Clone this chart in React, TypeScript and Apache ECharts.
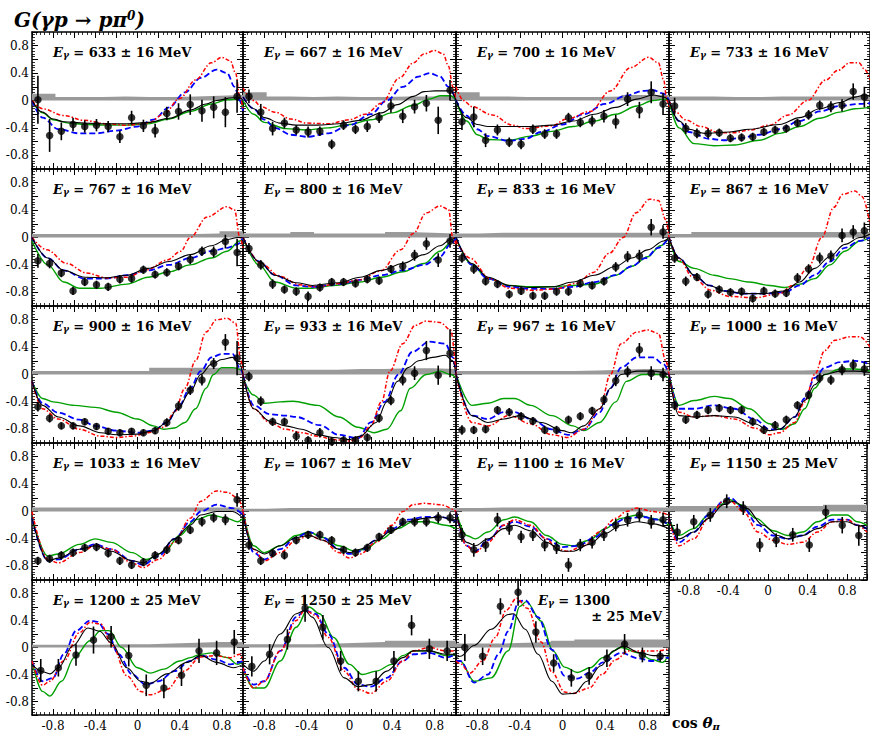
import React, { useEffect, useRef } from "react";
import * as echarts from "echarts";

// ---------- data ----------
const ENERGY = ["633","667","700","733","767","800","833","867","900","933","967","1000","1033","1067","1100","1150","1200","1250","1300"];
const ENERGY_ERR = ["16","16","16","16","16","16","16","16","16","16","16","16","16","16","16","25","25","25","25"];

const BINS18 = [-0.944,-0.833,-0.722,-0.611,-0.5,-0.389,-0.278,-0.167,-0.056,0.056,0.167,0.278,0.389,0.5,0.611,0.722,0.833,0.944];
const BINS12 = [-0.917,-0.75,-0.583,-0.417,-0.25,-0.083,0.083,0.25,0.417,0.583,0.75,0.917];

const G_DATA: number[][] = [
  [0.01,-0.51,-0.45,-0.35,-0.38,-0.36,-0.38,-0.53,-0.25,-0.37,-0.44,-0.19,-0.16,-0.06,-0.15,-0.10,-0.17,0.06],
  [0.06,-0.17,-0.41,-0.33,-0.43,-0.46,-0.45,-0.64,-0.36,-0.42,-0.38,-0.25,-0.08,-0.23,-0.09,-0.04,-0.29,0.15],
  [-0.31,-0.24,-0.58,-0.43,-0.61,-0.64,-0.42,-0.49,-0.49,-0.25,-0.32,-0.30,-0.23,-0.31,0.02,-0.14,0.12,-0.05],
  [-0.08,-0.41,-0.48,-0.48,-0.47,-0.55,-0.54,-0.53,-0.46,-0.43,-0.41,-0.33,-0.21,-0.07,-0.09,-0.07,0.13,0.05],
  [-0.34,-0.38,-0.52,-0.78,-0.65,-0.69,-0.72,-0.61,-0.60,-0.47,-0.54,-0.51,-0.42,-0.32,-0.20,-0.21,-0.06,-0.22],
  [-0.16,-0.40,-0.68,-0.76,-0.79,-0.86,-0.73,-0.65,-0.65,-0.67,-0.61,-0.63,-0.46,-0.42,-0.26,-0.09,-0.33,-0.05],
  [-0.30,-0.46,-0.64,-0.68,-0.83,-0.78,-0.85,-0.85,-0.79,-0.79,-0.67,-0.70,-0.64,-0.43,-0.28,-0.27,0.15,0.08],
  [-0.30,-0.64,-0.58,-0.83,-0.76,-0.80,-0.79,-0.89,-0.78,-0.82,-0.81,-0.59,-0.46,-0.30,-0.27,0.03,0.08,0.10],
  [-0.47,-0.64,-0.75,-0.75,-0.69,-0.76,-0.83,-0.85,-0.83,-0.85,-0.82,-0.70,-0.46,-0.23,-0.08,0.16,0.47,0.24],
  [-0.03,-0.39,-0.69,-0.69,-0.90,-0.96,-0.85,-0.98,-0.96,-0.96,-0.92,-0.64,-0.38,-0.08,0.02,0.35,-0.01,0.31],
  [-0.81,-0.81,-0.80,-0.52,-0.55,-0.61,-0.68,-0.81,-0.81,-0.66,-0.61,-0.53,-0.37,-0.09,0.04,0.36,0.02,0.00],
  [-0.45,-0.66,-0.59,-0.52,-0.49,-0.52,-0.52,-0.69,-0.81,-0.74,-0.66,-0.45,-0.30,-0.05,-0.08,0.07,0.14,0.08],
  [-0.72,-0.69,-0.64,-0.60,-0.53,-0.52,-0.61,-0.72,-0.78,-0.74,-0.64,-0.56,-0.42,-0.27,-0.15,-0.09,-0.12,0.17],
  [-0.49,-0.72,-0.61,-0.64,-0.42,-0.34,-0.34,-0.42,-0.56,-0.60,-0.53,-0.37,-0.27,-0.15,-0.15,-0.15,-0.09,-0.09],
  [-0.34,-0.56,-0.49,-0.12,-0.24,-0.37,-0.34,-0.49,-0.53,-0.78,-0.49,-0.45,-0.34,-0.20,-0.12,-0.05,-0.15,-0.12],
  [-0.30,-0.15,-0.05,0.15,0.05,-0.49,-0.42,-0.34,-0.49,-0.01,-0.20,-0.35],
  [-0.34,-0.30,-0.11,0.11,0.16,-0.12,-0.56,-0.60,-0.41,-0.05,-0.08,0.08],
  [-0.28,-0.10,0.12,0.58,0.30,-0.20,-0.50,-0.50,-0.20,0.33,-0.02,-0.05],
  [0.00,-0.13,0.61,0.82,0.23,-0.23,-0.45,-0.42,-0.16,0.05,-0.11,-0.13],
];

const G_ERR: number[][] = [
  [0.35,0.24,0.13,0.1,0.09,0.09,0.08,0.09,0.1,0.09,0.1,0.1,0.12,0.15,0.16,0.16,0.22,0.24],
  [0.1,0.12,0.1,0.08,0.07,0.08,0.07,0.07,0.07,0.07,0.08,0.08,0.1,0.1,0.1,0.12,0.2,0.15],
  [0.12,0.15,0.1,0.08,0.07,0.07,0.07,0.07,0.07,0.07,0.07,0.08,0.09,0.1,0.1,0.12,0.16,0.16],
  [0.12,0.08,0.07,0.07,0.06,0.06,0.06,0.06,0.06,0.06,0.06,0.06,0.07,0.07,0.08,0.09,0.12,0.15],
  [0.1,0.07,0.06,0.06,0.06,0.06,0.06,0.06,0.06,0.06,0.06,0.06,0.06,0.07,0.07,0.08,0.1,0.2],
  [0.08,0.07,0.07,0.06,0.06,0.07,0.06,0.06,0.06,0.06,0.06,0.06,0.06,0.07,0.08,0.09,0.1,0.1],
  [0.07,0.07,0.06,0.06,0.06,0.06,0.06,0.06,0.06,0.06,0.06,0.06,0.06,0.07,0.08,0.09,0.12,0.1],
  [0.07,0.07,0.06,0.06,0.06,0.06,0.06,0.06,0.06,0.06,0.06,0.07,0.07,0.08,0.08,0.1,0.1,0.12],
  [0.07,0.06,0.05,0.05,0.05,0.05,0.05,0.05,0.05,0.05,0.05,0.06,0.07,0.07,0.08,0.08,0.12,0.25],
  [0.07,0.07,0.06,0.06,0.07,0.06,0.07,0.06,0.06,0.06,0.06,0.06,0.07,0.08,0.1,0.14,0.14,0.35],
  [0.07,0.06,0.06,0.06,0.06,0.06,0.06,0.06,0.06,0.06,0.06,0.06,0.07,0.08,0.08,0.1,0.1,0.1],
  [0.07,0.06,0.06,0.06,0.06,0.06,0.06,0.06,0.06,0.06,0.06,0.06,0.06,0.07,0.07,0.08,0.08,0.1],
  [0.06,0.06,0.06,0.06,0.06,0.06,0.06,0.06,0.06,0.06,0.06,0.06,0.06,0.06,0.07,0.07,0.08,0.1],
  [0.07,0.06,0.06,0.06,0.06,0.06,0.06,0.06,0.06,0.06,0.06,0.06,0.06,0.06,0.07,0.07,0.08,0.08],
  [0.1,0.1,0.1,0.1,0.1,0.09,0.09,0.09,0.09,0.1,0.09,0.09,0.09,0.09,0.1,0.1,0.1,0.1],
  [0.12,0.1,0.1,0.1,0.1,0.1,0.1,0.1,0.1,0.1,0.12,0.15],
  [0.17,0.13,0.16,0.2,0.16,0.16,0.16,0.15,0.16,0.18,0.18,0.18],
  [0.15,0.15,0.15,0.2,0.18,0.15,0.15,0.15,0.15,0.15,0.15,0.15],
  [0.2,0.13,0.12,0.2,0.16,0.13,0.13,0.13,0.13,0.15,0.11,0.08],
];

// systematic-uncertainty band heights (equal bins over [-1, 1])
const SYS_BAND: number[][] = [
  [0.1,0.05,0.05,0.06,0.05,0.05,0.06,0.07,0.08],
  [0.12,0.06,0.05,0.06,0.05,0.05,0.06,0.06,0.07],
  [0.12,0.06,0.05,0.05,0.05,0.05,0.06,0.08,0.08],
  [0.06,0.06,0.05,0.05,0.06,0.06,0.06,0.06,0.07],
  [0.05,0.05,0.05,0.05,0.05,0.05,0.05,0.06,0.09],
  [0.06,0.06,0.08,0.06,0.06,0.06,0.08,0.07,0.06],
  [0.06,0.07,0.07,0.07,0.07,0.07,0.07,0.07,0.07],
  [0.05,0.08,0.08,0.08,0.08,0.08,0.08,0.08,0.08],
  [0.05,0.05,0.05,0.05,0.05,0.1,0.1,0.1,0.1],
  [0.07,0.07,0.07,0.07,0.08,0.08,0.09,0.09,0.08],
  [0.05,0.05,0.05,0.05,0.05,0.06,0.07,0.08,0.08],
  [0.06,0.06,0.06,0.06,0.06,0.06,0.07,0.07,0.07],
  [0.06,0.06,0.06,0.06,0.06,0.06,0.06,0.06,0.06],
  [0.04,0.05,0.05,0.05,0.05,0.05,0.05,0.05,0.05],
  [0.05,0.06,0.06,0.06,0.06,0.06,0.06,0.06,0.06],
  [0.08,0.08,0.08,0.08,0.08,0.08,0.08,0.1,0.1],
  [0.04,0.04,0.04,0.05,0.05,0.06,0.07,0.08,0.08],
  [0.05,0.05,0.05,0.06,0.07,0.08,0.1,0.1,0.1],
  [0.06,0.06,0.07,0.08,0.1,0.12,0.12,0.12,0.12],
];

const CURVE_BLACK: number[][][] = [
  [[-1,0],[-0.9,-0.17],[-0.8,-0.27],[-0.7,-0.31],[-0.5,-0.33],[-0.3,-0.34],[-0.1,-0.34],[0.1,-0.32],[0.3,-0.26],[0.5,-0.14],[0.65,-0.05],[0.75,0],[0.9,0.04],[0.97,0.04],[1,0]],
  [[-1,0.05],[-0.9,-0.12],[-0.8,-0.25],[-0.65,-0.33],[-0.5,-0.36],[-0.3,-0.36],[-0.1,-0.34],[0.1,-0.29],[0.3,-0.18],[0.45,-0.06],[0.6,0.06],[0.7,0.13],[0.8,0.14],[0.95,0.14],[1,0]],
  [[-1,0],[-0.9,-0.25],[-0.8,-0.35],[-0.7,-0.38],[-0.5,-0.38],[-0.3,-0.38],[-0.1,-0.36],[0.1,-0.3],[0.3,-0.2],[0.5,-0.1],[0.7,0.02],[0.85,0.08],[0.95,0.05],[1,0]],
  [[-1,0],[-0.9,-0.3],[-0.8,-0.42],[-0.65,-0.48],[-0.4,-0.46],[-0.2,-0.42],[0.1,-0.35],[0.3,-0.25],[0.5,-0.12],[0.7,-0.03],[0.85,0.05],[0.95,0.08],[1,0.06]],
  [[-1,0],[-0.85,-0.3],[-0.7,-0.48],[-0.5,-0.58],[-0.3,-0.59],[-0.1,-0.55],[0.1,-0.45],[0.3,-0.35],[0.5,-0.25],[0.7,-0.12],[0.85,-0.03],[0.95,0],[1,0]],
  [[-1,0],[-0.85,-0.35],[-0.7,-0.55],[-0.5,-0.66],[-0.35,-0.7],[-0.1,-0.66],[0.1,-0.58],[0.3,-0.48],[0.5,-0.38],[0.7,-0.25],[0.85,-0.12],[0.95,-0.03],[1,0]],
  [[-1,0],[-0.85,-0.38],[-0.7,-0.58],[-0.5,-0.7],[-0.3,-0.73],[-0.1,-0.72],[0.1,-0.65],[0.3,-0.55],[0.5,-0.42],[0.65,-0.3],[0.8,-0.18],[0.95,-0.05],[1,0]],
  [[-1,0],[-0.9,-0.3],[-0.75,-0.55],[-0.6,-0.7],[-0.45,-0.78],[-0.25,-0.82],[-0.05,-0.82],[0.15,-0.78],[0.3,-0.65],[0.45,-0.45],[0.6,-0.28],[0.75,-0.1],[0.9,0],[1,0.05]],
  [[-1,-0.1],[-0.9,-0.45],[-0.75,-0.62],[-0.55,-0.75],[-0.35,-0.85],[-0.2,-0.88],[0,-0.87],[0.15,-0.82],[0.28,-0.7],[0.38,-0.5],[0.5,-0.25],[0.6,0],[0.7,0.15],[0.8,0.22],[0.9,0.25],[0.97,0.15],[1,0]],
  [[-1,0],[-0.9,-0.5],[-0.75,-0.68],[-0.6,-0.75],[-0.45,-0.8],[-0.3,-0.88],[-0.15,-0.92],[0,-0.95],[0.1,-0.9],[0.25,-0.7],[0.35,-0.4],[0.45,-0.1],[0.55,0.1],[0.65,0.2],[0.78,0.25],[0.9,0.28],[0.97,0.2],[1,0]],
  [[-1,0],[-0.85,-0.6],[-0.7,-0.7],[-0.55,-0.65],[-0.4,-0.6],[-0.2,-0.7],[0,-0.82],[0.08,-0.85],[0.2,-0.75],[0.35,-0.5],[0.45,-0.2],[0.55,0],[0.7,0.05],[0.85,0.05],[1,0]],
  [[-1,0],[-0.9,-0.6],[-0.75,-0.62],[-0.55,-0.6],[-0.35,-0.62],[-0.15,-0.72],[0,-0.82],[0.1,-0.8],[0.25,-0.62],[0.35,-0.38],[0.45,-0.15],[0.55,0],[0.7,0.05],[0.85,0.05],[1,0.03]],
  [[-1,-0.1],[-0.85,-0.72],[-0.75,-0.68],[-0.55,-0.55],[-0.4,-0.5],[-0.25,-0.58],[-0.05,-0.72],[0.05,-0.75],[0.2,-0.62],[0.35,-0.4],[0.5,-0.2],[0.6,-0.05],[0.75,0],[0.9,0],[1,-0.1]],
  [[-1,-0.05],[-0.9,-0.55],[-0.8,-0.62],[-0.65,-0.5],[-0.5,-0.38],[-0.38,-0.35],[-0.25,-0.42],[-0.1,-0.55],[0,-0.6],[0.1,-0.55],[0.25,-0.42],[0.4,-0.28],[0.55,-0.15],[0.7,-0.1],[0.85,-0.08],[1,-0.15]],
  [[-1,0],[-0.9,-0.45],[-0.82,-0.5],[-0.7,-0.4],[-0.55,-0.25],[-0.45,-0.2],[-0.3,-0.28],[-0.15,-0.45],[0,-0.58],[0.1,-0.58],[0.25,-0.48],[0.4,-0.32],[0.55,-0.2],[0.7,-0.15],[0.85,-0.18],[1,-0.25]],
  [[-1,-0.1],[-0.9,-0.4],[-0.75,-0.3],[-0.6,-0.1],[-0.45,0.1],[-0.35,0.15],[-0.22,0.05],[-0.05,-0.2],[0.1,-0.35],[0.2,-0.4],[0.35,-0.35],[0.5,-0.25],[0.65,-0.15],[0.8,-0.15],[0.9,-0.2],[1,-0.25]],
  [[-1,-0.25],[-0.9,-0.36],[-0.83,-0.39],[-0.75,-0.3],[-0.61,0.03],[-0.47,0.29],[-0.36,0.24],[-0.25,0.07],[-0.1,-0.3],[0.03,-0.5],[0.12,-0.53],[0.28,-0.39],[0.47,-0.22],[0.6,-0.12],[0.75,-0.22],[0.91,-0.3],[1,-0.25]],
  [[-1,-0.25],[-0.9,-0.35],[-0.8,-0.2],[-0.65,0.2],[-0.5,0.5],[-0.42,0.55],[-0.35,0.45],[-0.2,0],[-0.05,-0.45],[0.08,-0.58],[0.2,-0.55],[0.35,-0.35],[0.5,-0.15],[0.6,-0.05],[0.75,-0.05],[0.9,-0.1],[1,-0.1]],
  [[-1,-0.15],[-0.96,-0.13],[-0.83,0.03],[-0.67,0.27],[-0.51,0.49],[-0.46,0.5],[-0.35,0.27],[-0.23,-0.1],[-0.1,-0.5],[0,-0.69],[0.11,-0.68],[0.23,-0.5],[0.36,-0.27],[0.48,-0.05],[0.57,0.02],[0.73,-0.08],[0.85,-0.12],[1,-0.12]],
];

const CURVE_RED: number[][][] = [
  [[-1,0],[-0.9,-0.12],[-0.7,-0.22],[-0.5,-0.29],[-0.3,-0.34],[-0.1,-0.36],[0.1,-0.33],[0.25,-0.2],[0.4,0.03],[0.55,0.3],[0.7,0.55],[0.8,0.63],[0.88,0.58],[0.93,0.4],[0.97,0.05],[1,-0.12]],
  [[-1,0.18],[-0.9,0],[-0.83,-0.09],[-0.7,-0.17],[-0.55,-0.27],[-0.4,-0.33],[-0.2,-0.34],[0,-0.28],[0.15,-0.2],[0.3,-0.04],[0.47,0.33],[0.6,0.55],[0.7,0.68],[0.8,0.73],[0.88,0.68],[0.93,0.5],[0.97,0.2],[1,0]],
  [[-1,0.2],[-0.93,0],[-0.85,-0.09],[-0.66,-0.21],[-0.47,-0.36],[-0.35,-0.41],[-0.1,-0.37],[0.04,-0.27],[0.26,-0.16],[0.45,0.14],[0.64,0.48],[0.81,0.63],[0.9,0.55],[0.95,0.3],[0.98,0],[1,-0.1]],
  [[-1,0],[-0.93,-0.17],[-0.84,-0.28],[-0.68,-0.38],[-0.5,-0.47],[-0.36,-0.47],[-0.19,-0.43],[0,-0.36],[0.19,-0.21],[0.38,0],[0.56,0.3],[0.68,0.44],[0.8,0.55],[0.89,0.55],[0.95,0.45],[1,0.3]],
  [[-1,0],[-0.86,-0.18],[-0.67,-0.38],[-0.48,-0.52],[-0.29,-0.59],[-0.1,-0.58],[0.09,-0.47],[0.28,-0.33],[0.41,-0.2],[0.5,0],[0.66,0.3],[0.85,0.45],[0.92,0.4],[0.97,0],[1,-0.15]],
  [[-1,0],[-0.83,-0.38],[-0.65,-0.57],[-0.47,-0.69],[-0.31,-0.72],[-0.09,-0.67],[0.09,-0.62],[0.29,-0.49],[0.48,-0.18],[0.6,0.06],[0.72,0.36],[0.85,0.46],[0.93,0.41],[0.97,0],[1,-0.1]],
  [[-1,-0.04],[-0.87,-0.3],[-0.68,-0.6],[-0.5,-0.74],[-0.28,-0.77],[-0.06,-0.75],[0.13,-0.67],[0.29,-0.51],[0.44,-0.23],[0.57,0],[0.69,0.36],[0.82,0.56],[0.9,0.54],[0.97,0.26],[1,0]],
  [[-1,0],[-0.89,-0.33],[-0.77,-0.57],[-0.58,-0.77],[-0.4,-0.86],[-0.15,-0.88],[0.1,-0.82],[0.23,-0.7],[0.39,-0.43],[0.52,0],[0.64,0.44],[0.73,0.63],[0.85,0.68],[0.92,0.6],[1,0.2]],
  [[-1,-0.1],[-0.9,-0.5],[-0.75,-0.65],[-0.55,-0.8],[-0.35,-0.9],[-0.2,-0.92],[-0.05,-0.9],[0.1,-0.85],[0.25,-0.77],[0.35,-0.55],[0.45,-0.2],[0.55,0.2],[0.65,0.62],[0.75,0.8],[0.85,0.82],[0.93,0.75],[0.98,0.2],[1,0]],
  [[-1,0],[-0.9,-0.5],[-0.75,-0.7],[-0.6,-0.8],[-0.45,-0.85],[-0.3,-0.9],[-0.15,-0.95],[0,-0.97],[0.1,-0.92],[0.2,-0.75],[0.3,-0.4],[0.38,0.05],[0.5,0.45],[0.62,0.72],[0.72,0.78],[0.85,0.76],[0.95,0.65],[1,0]],
  [[-1,0],[-0.85,-0.7],[-0.7,-0.75],[-0.5,-0.6],[-0.3,-0.72],[-0.1,-0.88],[0.05,-0.92],[0.2,-0.8],[0.35,-0.5],[0.45,0],[0.55,0.45],[0.7,0.62],[0.8,0.65],[0.9,0.6],[0.97,0.2],[1,0]],
  [[-1,0],[-0.9,-0.55],[-0.75,-0.62],[-0.55,-0.6],[-0.35,-0.65],[-0.15,-0.78],[0,-0.88],[0.1,-0.85],[0.25,-0.7],[0.35,-0.4],[0.45,0],[0.55,0.35],[0.65,0.5],[0.8,0.55],[0.9,0.55],[1,0.4]],
  [[-1,0],[-0.85,-0.7],[-0.75,-0.75],[-0.55,-0.6],[-0.4,-0.5],[-0.25,-0.55],[-0.05,-0.75],[0.05,-0.82],[0.2,-0.7],[0.35,-0.45],[0.5,-0.1],[0.6,0.15],[0.75,0.3],[0.85,0.28],[0.95,0.2],[1,0]],
  [[-1,0],[-0.9,-0.55],[-0.8,-0.72],[-0.65,-0.6],[-0.5,-0.42],[-0.38,-0.35],[-0.25,-0.42],[-0.1,-0.6],[0,-0.68],[0.1,-0.62],[0.25,-0.45],[0.4,-0.2],[0.5,0],[0.6,0.1],[0.7,0.12],[0.85,0.1],[1,0]],
  [[-1,0],[-0.9,-0.5],[-0.82,-0.6],[-0.7,-0.45],[-0.55,-0.2],[-0.45,-0.12],[-0.3,-0.2],[-0.15,-0.4],[-0.05,-0.55],[0.05,-0.58],[0.2,-0.5],[0.35,-0.3],[0.5,-0.1],[0.6,0],[0.7,0.05],[0.85,0],[1,-0.05]],
  [[-1,-0.1],[-0.9,-0.5],[-0.75,-0.4],[-0.6,-0.1],[-0.45,0.15],[-0.38,0.15],[-0.25,0],[-0.1,-0.3],[0.05,-0.42],[0.2,-0.48],[0.35,-0.45],[0.5,-0.3],[0.65,-0.15],[0.8,-0.12],[0.9,-0.2],[1,-0.3]],
  [[-1,-0.2],[-0.9,-0.56],[-0.83,-0.5],[-0.7,-0.2],[-0.55,0.22],[-0.45,0.37],[-0.35,0.35],[-0.24,0.03],[-0.1,-0.42],[0.03,-0.65],[0.12,-0.7],[0.28,-0.62],[0.44,-0.35],[0.6,-0.14],[0.73,-0.12],[0.88,-0.15],[0.97,-0.1],[1,-0.2]],
  [[-1,-0.3],[-0.9,-0.6],[-0.8,-0.5],[-0.65,-0.05],[-0.5,0.4],[-0.42,0.55],[-0.32,0.48],[-0.2,0.15],[-0.05,-0.35],[0.08,-0.62],[0.2,-0.68],[0.35,-0.5],[0.5,-0.2],[0.6,-0.05],[0.75,0],[0.9,-0.05],[1,-0.05]],
  [[-1,-0.2],[-0.96,-0.24],[-0.87,-0.38],[-0.75,-0.2],[-0.63,0.15],[-0.53,0.55],[-0.43,0.73],[-0.33,0.58],[-0.2,0.08],[-0.1,-0.36],[0.02,-0.66],[0.1,-0.68],[0.25,-0.6],[0.37,-0.4],[0.5,-0.18],[0.62,-0.05],[0.75,-0.05],[0.88,-0.05],[1,-0.02]],
];

const CURVE_BLUE: number[][][] = [
  [[-1,0],[-0.9,-0.25],[-0.75,-0.42],[-0.55,-0.48],[-0.4,-0.48],[-0.2,-0.44],[0,-0.38],[0.15,-0.28],[0.3,-0.1],[0.45,0.12],[0.6,0.33],[0.75,0.45],[0.85,0.4],[0.92,0.2],[0.97,0],[1,-0.15]],
  [[-1,0.05],[-0.9,-0.12],[-0.8,-0.28],[-0.7,-0.4],[-0.55,-0.5],[-0.4,-0.53],[-0.2,-0.48],[0,-0.36],[0.2,-0.2],[0.35,0],[0.5,0.2],[0.65,0.35],[0.75,0.4],[0.85,0.35],[0.93,0.2],[1,0]],
  [[-1,0],[-0.9,-0.22],[-0.8,-0.42],[-0.7,-0.52],[-0.5,-0.59],[-0.35,-0.56],[-0.2,-0.46],[0,-0.35],[0.2,-0.2],[0.4,-0.05],[0.6,0.07],[0.75,0.14],[0.85,0.15],[0.95,0.1],[1,0]],
  [[-1,0],[-0.9,-0.3],[-0.8,-0.46],[-0.6,-0.56],[-0.45,-0.58],[-0.3,-0.55],[-0.1,-0.5],[0.1,-0.42],[0.3,-0.3],[0.5,-0.16],[0.7,-0.08],[0.9,-0.05],[1,-0.04]],
  [[-1,0],[-0.85,-0.3],[-0.7,-0.48],[-0.5,-0.6],[-0.3,-0.6],[-0.1,-0.55],[0.1,-0.48],[0.3,-0.4],[0.5,-0.3],[0.7,-0.2],[0.85,-0.15],[0.95,-0.1],[1,0]],
  [[-1,0],[-0.85,-0.35],[-0.7,-0.55],[-0.5,-0.7],[-0.35,-0.72],[-0.1,-0.68],[0.1,-0.62],[0.3,-0.55],[0.5,-0.48],[0.7,-0.4],[0.85,-0.28],[0.95,-0.1],[1,0]],
  [[-1,0],[-0.85,-0.4],[-0.7,-0.6],[-0.5,-0.72],[-0.3,-0.75],[-0.1,-0.75],[0.1,-0.72],[0.3,-0.65],[0.5,-0.55],[0.65,-0.42],[0.78,-0.3],[0.9,-0.15],[1,0]],
  [[-1,0],[-0.9,-0.3],[-0.75,-0.55],[-0.6,-0.7],[-0.45,-0.78],[-0.25,-0.82],[-0.05,-0.82],[0.15,-0.8],[0.3,-0.7],[0.45,-0.55],[0.6,-0.35],[0.75,-0.15],[0.9,-0.05],[1,0]],
  [[-1,-0.1],[-0.9,-0.42],[-0.75,-0.56],[-0.55,-0.66],[-0.4,-0.75],[-0.2,-0.82],[0,-0.85],[0.15,-0.82],[0.28,-0.7],[0.38,-0.5],[0.5,-0.2],[0.6,0.05],[0.7,0.25],[0.8,0.3],[0.9,0.3],[0.97,0.1],[1,0]],
  [[-1,0],[-0.9,-0.45],[-0.75,-0.58],[-0.6,-0.6],[-0.5,-0.62],[-0.28,-0.74],[-0.1,-0.88],[0.08,-0.93],[0.2,-0.7],[0.33,-0.4],[0.46,0],[0.59,0.33],[0.75,0.48],[0.9,0.45],[0.97,0.25],[1,0]],
  [[-1,0],[-0.85,-0.6],[-0.7,-0.65],[-0.55,-0.55],[-0.45,-0.55],[-0.3,-0.65],[-0.1,-0.8],[0.05,-0.88],[0.2,-0.8],[0.35,-0.55],[0.45,-0.2],[0.55,0.1],[0.7,0.25],[0.85,0.25],[0.95,0.15],[1,0]],
  [[-1,0],[-0.9,-0.5],[-0.75,-0.5],[-0.55,-0.45],[-0.35,-0.5],[-0.15,-0.65],[0,-0.8],[0.1,-0.8],[0.25,-0.62],[0.35,-0.35],[0.45,-0.05],[0.55,0.1],[0.7,0.18],[0.85,0.2],[1,0.15]],
  [[-1,-0.1],[-0.85,-0.72],[-0.75,-0.7],[-0.55,-0.55],[-0.4,-0.48],[-0.25,-0.55],[-0.05,-0.72],[0.05,-0.78],[0.2,-0.65],[0.35,-0.4],[0.5,-0.15],[0.6,0],[0.75,0.1],[0.9,0.05],[1,-0.05]],
  [[-1,0],[-0.9,-0.6],[-0.8,-0.7],[-0.65,-0.55],[-0.5,-0.38],[-0.38,-0.3],[-0.25,-0.38],[-0.1,-0.55],[0,-0.62],[0.1,-0.58],[0.25,-0.42],[0.4,-0.25],[0.55,-0.12],[0.7,-0.08],[0.85,-0.08],[1,-0.15]],
  [[-1,0],[-0.9,-0.5],[-0.82,-0.58],[-0.7,-0.42],[-0.55,-0.2],[-0.45,-0.15],[-0.3,-0.22],[-0.15,-0.4],[0,-0.52],[0.15,-0.5],[0.3,-0.38],[0.45,-0.2],[0.6,-0.1],[0.75,-0.08],[0.9,-0.12],[1,-0.2]],
  [[-1,-0.1],[-0.9,-0.45],[-0.75,-0.3],[-0.6,-0.05],[-0.45,0.15],[-0.38,0.2],[-0.25,0.05],[-0.1,-0.2],[0.05,-0.35],[0.2,-0.4],[0.35,-0.35],[0.5,-0.22],[0.65,-0.12],[0.8,-0.12],[0.9,-0.2],[1,-0.25]],
  [[-1,-0.2],[-0.9,-0.5],[-0.8,-0.45],[-0.7,-0.1],[-0.58,0.25],[-0.45,0.4],[-0.38,0.38],[-0.28,0.2],[-0.18,-0.1],[-0.05,-0.4],[0.08,-0.55],[0.2,-0.5],[0.35,-0.35],[0.5,-0.2],[0.6,-0.12],[0.75,-0.18],[0.88,-0.25],[1,-0.2]],
  [[-1,-0.3],[-0.9,-0.55],[-0.8,-0.5],[-0.65,-0.05],[-0.5,0.45],[-0.42,0.55],[-0.32,0.5],[-0.2,0.2],[-0.05,-0.3],[0.08,-0.55],[0.2,-0.58],[0.35,-0.45],[0.5,-0.2],[0.6,-0.1],[0.75,-0.08],[0.9,-0.15],[1,-0.1]],
  [[-1,-0.2],[-0.96,-0.2],[-0.83,-0.52],[-0.7,-0.4],[-0.6,-0.1],[-0.51,0.24],[-0.41,0.68],[-0.35,0.7],[-0.23,0.45],[-0.1,-0.03],[0.02,-0.42],[0.14,-0.46],[0.26,-0.37],[0.38,-0.22],[0.55,-0.08],[0.71,-0.16],[0.84,-0.2],[0.97,-0.15],[1,-0.15]],
];

const CURVE_GREEN: number[][][] = [
  [[-1,0],[-0.9,-0.18],[-0.8,-0.28],[-0.65,-0.33],[-0.5,-0.35],[-0.3,-0.36],[-0.1,-0.36],[0.1,-0.34],[0.3,-0.27],[0.5,-0.16],[0.7,-0.05],[0.85,0.01],[0.95,0.02],[1,-0.1]],
  [[-1,0],[-0.9,-0.2],[-0.8,-0.32],[-0.6,-0.41],[-0.4,-0.43],[-0.2,-0.4],[0,-0.35],[0.2,-0.28],[0.4,-0.18],[0.6,-0.07],[0.75,0.02],[0.85,0.07],[0.95,0.07],[1,0]],
  [[-1,0],[-0.9,-0.3],[-0.8,-0.5],[-0.7,-0.57],[-0.5,-0.58],[-0.3,-0.52],[-0.1,-0.45],[0.1,-0.38],[0.3,-0.3],[0.5,-0.2],[0.7,-0.08],[0.85,0],[0.95,0.02],[1,0]],
  [[-1,0],[-0.9,-0.4],[-0.75,-0.63],[-0.55,-0.66],[-0.35,-0.65],[-0.1,-0.58],[0.1,-0.48],[0.3,-0.38],[0.5,-0.26],[0.7,-0.17],[0.85,-0.12],[1,-0.1]],
  [[-1,-0.05],[-0.85,-0.4],[-0.7,-0.65],[-0.55,-0.74],[-0.35,-0.74],[-0.1,-0.68],[0.1,-0.58],[0.3,-0.5],[0.5,-0.4],[0.7,-0.3],[0.85,-0.2],[0.97,-0.05],[1,0]],
  [[-1,0],[-0.85,-0.4],[-0.7,-0.65],[-0.5,-0.74],[-0.35,-0.74],[-0.15,-0.7],[0.1,-0.65],[0.3,-0.58],[0.5,-0.5],[0.7,-0.38],[0.85,-0.2],[0.97,-0.05],[1,0]],
  [[-1,0],[-0.85,-0.4],[-0.7,-0.6],[-0.5,-0.7],[-0.3,-0.72],[-0.1,-0.72],[0.1,-0.7],[0.3,-0.68],[0.5,-0.55],[0.65,-0.42],[0.8,-0.28],[0.92,-0.12],[1,0]],
  [[-1,0],[-0.9,-0.35],[-0.75,-0.45],[-0.55,-0.55],[-0.4,-0.6],[-0.2,-0.65],[0,-0.7],[0.15,-0.73],[0.3,-0.68],[0.45,-0.6],[0.6,-0.4],[0.75,-0.2],[0.9,-0.05],[1,0]],
  [[-1,-0.1],[-0.9,-0.35],[-0.8,-0.4],[-0.6,-0.45],[-0.4,-0.48],[-0.2,-0.55],[0,-0.65],[0.15,-0.75],[0.25,-0.8],[0.35,-0.78],[0.45,-0.7],[0.55,-0.5],[0.65,-0.2],[0.72,0],[0.8,0.1],[0.9,0.1],[1,0.05]],
  [[-1,-0.05],[-0.9,-0.3],[-0.8,-0.42],[-0.65,-0.4],[-0.53,-0.39],[-0.3,-0.45],[-0.1,-0.62],[0.08,-0.77],[0.23,-0.85],[0.35,-0.8],[0.48,-0.53],[0.57,-0.2],[0.72,0],[0.85,0.05],[0.95,0],[1,-0.05]],
  [[-1,0],[-0.85,-0.45],[-0.7,-0.42],[-0.55,-0.35],[-0.45,-0.35],[-0.3,-0.45],[-0.1,-0.6],[0.1,-0.75],[0.2,-0.82],[0.35,-0.7],[0.5,-0.4],[0.6,-0.1],[0.75,0],[0.9,0],[1,-0.05]],
  [[-1,0],[-0.9,-0.45],[-0.75,-0.38],[-0.55,-0.32],[-0.4,-0.35],[-0.2,-0.5],[0,-0.72],[0.12,-0.8],[0.25,-0.72],[0.35,-0.5],[0.45,-0.2],[0.55,0],[0.7,0.08],[0.85,0.08],[1,0.05]],
  [[-1,-0.1],[-0.85,-0.65],[-0.75,-0.62],[-0.55,-0.48],[-0.4,-0.4],[-0.25,-0.45],[-0.05,-0.6],[0.08,-0.7],[0.25,-0.6],[0.4,-0.35],[0.55,-0.12],[0.7,-0.05],[0.85,-0.1],[0.95,-0.15],[1,-0.1]],
  [[-1,0],[-0.9,-0.5],[-0.8,-0.6],[-0.65,-0.5],[-0.5,-0.35],[-0.38,-0.3],[-0.25,-0.38],[-0.1,-0.5],[0.05,-0.58],[0.15,-0.55],[0.3,-0.4],[0.45,-0.25],[0.6,-0.15],[0.75,-0.15],[0.9,-0.2],[1,-0.25]],
  [[-1,0],[-0.9,-0.35],[-0.82,-0.4],[-0.7,-0.3],[-0.55,-0.12],[-0.45,-0.08],[-0.3,-0.15],[-0.15,-0.35],[0,-0.48],[0.1,-0.5],[0.25,-0.42],[0.4,-0.25],[0.55,-0.1],[0.7,-0.05],[0.85,-0.1],[1,-0.2]],
  [[-1,-0.1],[-0.9,-0.35],[-0.75,-0.25],[-0.6,-0.05],[-0.48,0.1],[-0.4,0.18],[-0.28,0.1],[-0.12,-0.1],[0.05,-0.28],[0.2,-0.35],[0.35,-0.3],[0.5,-0.15],[0.65,-0.05],[0.8,-0.05],[0.9,-0.15],[1,-0.2]],
  [[-1,-0.2],[-0.9,-0.65],[-0.83,-0.72],[-0.72,-0.5],[-0.6,-0.15],[-0.45,0.1],[-0.35,0.25],[-0.27,0.25],[-0.15,0],[0,-0.3],[0.12,-0.38],[0.25,-0.32],[0.4,-0.2],[0.5,-0.15],[0.6,-0.1],[0.7,-0.08],[0.85,-0.15],[0.95,-0.25],[1,-0.2]],
  [[-1,-0.3],[-0.9,-0.6],[-0.8,-0.6],[-0.65,-0.2],[-0.5,0.3],[-0.38,0.6],[-0.28,0.5],[-0.15,0.15],[0,-0.25],[0.12,-0.4],[0.25,-0.35],[0.4,-0.25],[0.5,-0.12],[0.6,-0.05],[0.75,-0.05],[0.9,-0.12],[1,-0.1]],
  [[-1,-0.2],[-0.96,-0.2],[-0.83,-0.5],[-0.67,-0.45],[-0.51,-0.05],[-0.4,0.61],[-0.34,0.68],[-0.2,0.39],[-0.09,-0.05],[0.02,-0.29],[0.14,-0.37],[0.26,-0.3],[0.38,-0.15],[0.55,0],[0.71,-0.08],[0.84,-0.18],[0.94,-0.22],[1,-0.1]],
];

const TICK_LABELS = [-0.8, -0.4, 0, 0.4, 0.8];

// ---------- layout ----------
const COL_LEFT = [32, 243, 456, 669];
const COL_W = [211, 213, 213, 213];
const ROW_TOP = [32, 169, 306, 443, 580];
const ROW_H = 137;
const FONT = "DejaVu Serif";

function tickFmt(v: number) {
  const r = Math.round(v * 10) / 10;
  return TICK_LABELS.some((t) => Math.abs(t - r) < 1e-6) ? String(r === 0 ? 0 : r) : "";
}

function bandPoints(h: number[]) {
  const n = h.length;
  const w = 2 / n;
  const pts: number[][] = [];
  h.forEach((v, k) => {
    pts.push([-1 + k * w, v]);
    pts.push([-1 + (k + 1) * w, v]);
  });
  return pts;
}

function buildOption() {
  const grid: any[] = [];
  const xAxis: any[] = [];
  const yAxis: any[] = [];
  const series: any[] = [];
  const graphic: any[] = [];
  const lineStyle = { color: "#000", width: 1.5 };
  const tick = { show: true, inside: true, length: 6, lineStyle: { color: "#000", width: 1 } };
  const minor = { show: true, splitNumber: 5, length: 3, lineStyle: { color: "#000", width: 0.8 } };

  const labelRich = {
    e: { fontFamily: FONT, fontWeight: "bold", fontStyle: "italic", fontSize: 13, fill: "#000" },
    s: { fontFamily: FONT, fontWeight: "bold", fontStyle: "italic", fontSize: 9, fill: "#000", padding: [6, 0, 0, 0], verticalAlign: "bottom" },
    t: { fontFamily: FONT, fontWeight: "bold", fontSize: 13, fill: "#000" },
  };

  ENERGY.forEach((en, i) => {
    const col = i % 4;
    const row = Math.floor(i / 4);
    const left = COL_LEFT[col];
    const top = ROW_TOP[row];
    grid.push({ left, top, width: COL_W[col], height: ROW_H, show: false });
    const showX = i >= 15;
    const showY = col === 0;
    xAxis.push({
      type: "value", gridIndex: i, position: "bottom", min: -1, max: 1, interval: 0.2,
      axisLine: { show: true, onZero: false, lineStyle },
      axisTick: tick, minorTick: minor, splitLine: { show: false },
      axisLabel: { show: showX, formatter: tickFmt, fontFamily: FONT, fontSize: 12, color: "#000", margin: 5, hideOverlap: false },
    });
    xAxis.push({
      type: "value", gridIndex: i, position: "top", min: -1, max: 1, interval: 0.2,
      axisLine: { show: true, onZero: false, lineStyle },
      axisTick: tick, minorTick: minor, splitLine: { show: false }, axisLabel: { show: false },
    });
    yAxis.push({
      type: "value", gridIndex: i, position: "left", min: -1, max: 1, interval: 0.2,
      axisLine: { show: true, onZero: false, lineStyle },
      axisTick: tick, minorTick: minor, splitLine: { show: false },
      axisLabel: { show: showY, formatter: tickFmt, fontFamily: FONT, fontSize: 12, color: "#000", margin: 3, hideOverlap: false },
    });
    yAxis.push({
      type: "value", gridIndex: i, position: "right", min: -1, max: 1, interval: 0.2,
      axisLine: { show: true, onZero: false, lineStyle },
      axisTick: tick, minorTick: minor, splitLine: { show: false }, axisLabel: { show: false },
    });
    const xi = 2 * i;
    const yi = 2 * i;
    series.push({
      type: "line", xAxisIndex: xi, yAxisIndex: yi, data: bandPoints(SYS_BAND[i]), symbol: "none", silent: true,
      lineStyle: { width: 0, color: "#999" }, areaStyle: { color: "#9a9a9a", opacity: 1, origin: "auto" }, z: 1,
    });
    const curves: [number[][][], any][] = [
      [CURVE_GREEN, { color: "#00a000", width: 1.4, type: "solid" }],
      [CURVE_BLUE, { color: "#0000ff", width: 1.8, type: [6, 3] }],
      [CURVE_RED, { color: "#ff0000", width: 1.5, type: [4, 2, 1.5, 2] }],
      [CURVE_BLACK, { color: "#000000", width: 1.1, type: "solid" }],
    ];
    curves.forEach(([arr, ls]) => {
      series.push({
        type: "line", xAxisIndex: xi, yAxisIndex: yi, data: arr[i], symbol: "none", silent: true,
        smooth: 0.35, smoothMonotone: "x", lineStyle: ls, z: 2,
      });
    });
    const xs = G_DATA[i].length === 18 ? BINS18 : BINS12;
    const pts = xs.map((x, k) => [x, G_DATA[i][k], G_ERR[i][k]]);
    series.push({
      type: "custom", xAxisIndex: xi, yAxisIndex: yi, data: pts, silent: true, z: 3,
      encode: { x: 0, y: 1 },
      renderItem: (_p: any, api: any) => {
        const x = api.value(0), y = api.value(1), e = api.value(2);
        const a = api.coord([x, y - e]);
        const b = api.coord([x, y + e]);
        return { type: "line", shape: { x1: a[0], y1: a[1], x2: b[0], y2: b[1] }, style: { stroke: "#000", lineWidth: 1.6 } };
      },
    });
    series.push({
      type: "scatter", xAxisIndex: xi, yAxisIndex: yi, data: pts.map((p) => [p[0], p[1]]),
      symbol: "circle", symbolSize: 7.5, itemStyle: { color: "#000" }, silent: true, z: 4,
    });

    // panel label
    if (i === 18) {
      graphic.push({
        type: "text", x: left + 82, y: top + 20, silent: true,
        style: { text: `{e|E}{s|γ}{t| = ${en}}`, rich: labelRich, align: "left", verticalAlign: "middle" },
      });
      graphic.push({
        type: "text", x: left + 206, y: top + 36, silent: true,
        style: { text: `{t|± ${ENERGY_ERR[i]} MeV}`, rich: labelRich, align: "right", verticalAlign: "middle" },
      });
    } else {
      graphic.push({
        type: "text", x: left + 21, y: top + 20, silent: true,
        style: { text: `{e|E}{s|γ}{t| = ${en} ± ${ENERGY_ERR[i]} MeV}`, rich: labelRich, align: "left", verticalAlign: "middle" },
      });
    }
  });

  graphic.push({
    type: "text", x: 14, y: 20, silent: true,
    style: {
      text: "{a|G(γp → pπ}{b|0}{a|)}",
      align: "left", verticalAlign: "middle",
      rich: {
        a: { fontFamily: FONT, fontWeight: "bold", fontStyle: "italic", fontSize: 20, fill: "#000" },
        b: { fontFamily: FONT, fontWeight: "bold", fontStyle: "italic", fontSize: 12, fill: "#000", verticalAlign: "top" },
      },
    },
  });
  graphic.push({
    type: "text", x: 672, y: 723, silent: true,
    style: {
      text: "{c|cos }{t|θ}{p|π}",
      align: "left", verticalAlign: "middle",
      rich: {
        c: { fontFamily: FONT, fontWeight: "bold", fontSize: 14, fill: "#000" },
        t: { fontFamily: FONT, fontWeight: "bold", fontStyle: "italic", fontSize: 15, fill: "#000" },
        p: { fontFamily: FONT, fontWeight: "bold", fontStyle: "italic", fontSize: 10, fill: "#000", padding: [6, 0, 0, 0], verticalAlign: "bottom" },
      },
    },
  });

  return { animation: false, backgroundColor: "#ffffff", grid, xAxis, yAxis, series, graphic };
}

export default function App() {
  const ref = useRef<HTMLDivElement>(null);
  useEffect(() => {
    if (!ref.current) return;
    const chart = echarts.init(ref.current, null, { renderer: "svg" });
    chart.setOption(buildOption() as any);
    return () => chart.dispose();
  }, []);
  return (
    <div
      ref={ref}
      style={{ position: "absolute", left: 0, top: 0, width: 870, height: 732, background: "#fff" }}
    />
  );
}
